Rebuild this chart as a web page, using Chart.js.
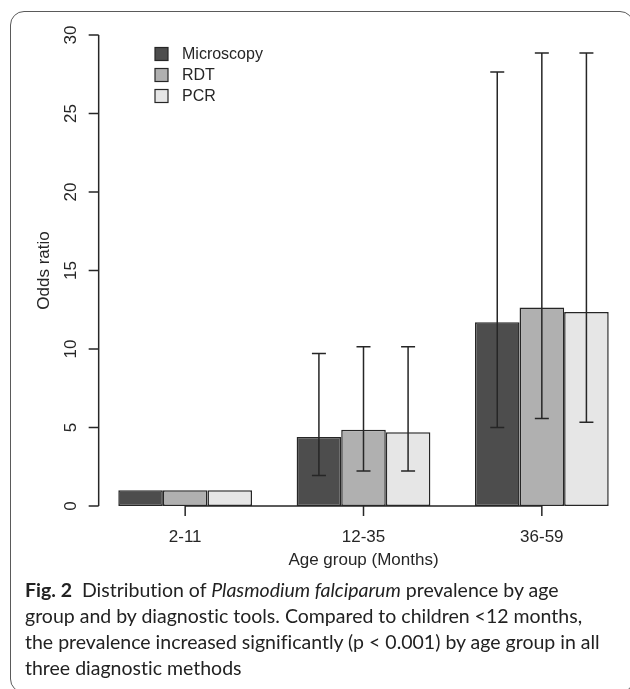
<!DOCTYPE html>
<html>
<head>
<meta charset="utf-8">
<script src="https://cdn.jsdelivr.net/npm/chart.js@4.4.1/dist/chart.umd.min.js"></script>
<style>
  html, body { margin: 0; padding: 0; background: #fff; overflow: hidden; }
  body { width: 630px; height: 689px; position: relative; }
  #frame {
    position: absolute; left: 10px; top: 11px; width: 624px; height: 682px;
    border: 1.5px solid #5a5a5a; border-radius: 14px; box-sizing: border-box;
  }
  #plot { position: absolute; left: 0; top: 0; width: 632px; height: 689px; }
  #caption {
    position: absolute; left: 25px; top: 577px; width: 610px;
    font-family: Lato, 'Noto Sans', sans-serif; font-size: 19.5px; line-height: 26px;
    color: #222; white-space: nowrap; font-variant-ligatures: none;
  }
  #caption b { font-weight: 700; }
</style>
</head>
<body>
<div id="frame"></div>
<div id="plot"><canvas id="chart"></canvas></div>
<div id="caption"><b>Fig. 2</b>&nbsp; Distribution of <i>Plasmodium falciparum</i> prevalence by age<br>group and by diagnostic tools. Compared to children &lt;12 months,<br>the prevalence increased significantly (p &lt; 0.001) by age group in all<br>three diagnostic methods</div>
<script>
const ageGroups = ['2-11', '12-35', '36-59'];
const seriesNames = ['Microscopy', 'RDT', 'PCR'];
const microscopy = [1, 4.4, 11.7];
const rdt = [1, 4.85, 12.65];
const pcr = [1, 4.7, 12.35];
// 95% CI limits (no interval for the reference group)
const microscopyLow = [null, 1.95, 5.0];
const microscopyHigh = [null, 9.72, 27.65];
const rdtLow = [null, 2.23, 5.58];
const rdtHigh = [null, 10.15, 28.85];
const pcrLow = [null, 2.23, 5.33];
const pcrHigh = [null, 10.15, 28.85];
const yTicks = [0, 5, 10, 15, 20, 25, 30];
const xTitle = 'Age group (Months)';
const yTitle = 'Odds ratio';

const fills = ['#4d4d4d', '#b0b0b0', '#e6e6e6'];
const ink = '#262626';
const font = '17px "Liberation Sans", Arial, sans-serif';
const legendFont = '16px "Liberation Sans", Arial, sans-serif';

//ejes, barras de error y leyenda al estilo de R
const rStyle = {
  id: 'rStyle',
  afterDatasetsDraw(chart) {
    const { ctx, scales: { x, y } } = chart;
    const unit = x.width / 12;
    const axisX = x.left + unit * 0.06;
    const y0 = y.getPixelForValue(yTicks[0]);
    ctx.save();
    ctx.strokeStyle = ink;
    ctx.fillStyle = ink;
    ctx.lineWidth = 1.5;
    ctx.font = font;

    chart.data.datasets.forEach((ds, i) => {
      chart.getDatasetMeta(i).data.forEach((bar, j) => {
        if (ds.low[j] == null) return;
        const top = y.getPixelForValue(ds.high[j]);
        const bot = y.getPixelForValue(ds.low[j]);
        ctx.beginPath();
        ctx.moveTo(bar.x, top); ctx.lineTo(bar.x, bot);
        ctx.moveTo(bar.x - 7, top); ctx.lineTo(bar.x + 7, top);
        ctx.moveTo(bar.x - 7, bot); ctx.lineTo(bar.x + 7, bot);
        ctx.stroke();
      });
    });

    // eje y
    const yTop = y.getPixelForValue(yTicks[yTicks.length - 1]);
    ctx.beginPath();
    ctx.moveTo(axisX, y0); ctx.lineTo(axisX, yTop);
    yTicks.forEach((t) => {
      const py = y.getPixelForValue(t);
      ctx.moveTo(axisX, py); ctx.lineTo(axisX - 10, py);
    });
    ctx.stroke();
    ctx.textAlign = 'center';
    ctx.textBaseline = 'middle';
    yTicks.forEach((t) => {
      ctx.save();
      ctx.translate(axisX - 27, y.getPixelForValue(t));
      ctx.rotate(-Math.PI / 2);
      ctx.fillText(String(t), 0, 0);
      ctx.restore();
    });
    ctx.save();
    ctx.translate(44, (y.top + y.bottom) / 2);
    ctx.rotate(-Math.PI / 2);
    ctx.fillText(yTitle, 0, 0);
    ctx.restore();

    // eje x
    const xs = ageGroups.map((g, j) => x.getPixelForValue(j));
    ctx.beginPath();
    ctx.moveTo(xs[0], y0); ctx.lineTo(xs[xs.length - 1], y0);
    xs.forEach((px) => {
      ctx.moveTo(px, y0); ctx.lineTo(px, y0 + 10);
    });
    ctx.stroke();
    ageGroups.forEach((g, j) => ctx.fillText(g, xs[j], y0 + 31));
    const plotRight = x.left + unit * 11.94;
    ctx.fillText(xTitle, (axisX + plotRight) / 2, y0 + 54);

    // leyenda
    ctx.font = legendFont;
    ctx.textAlign = 'left';
    ctx.lineWidth = 1.2;
    chart.data.datasets.forEach((ds, i) => {
      const cy = 54 + i * 21;
      ctx.fillStyle = ds.backgroundColor;
      ctx.fillRect(155, cy - 6.5, 13, 13);
      ctx.strokeRect(155, cy - 6.5, 13, 13);
      ctx.fillStyle = ink;
      ctx.fillText(ds.label, 182, cy + 1);
    });
    ctx.restore();
  },
};

const lows = [microscopyLow, rdtLow, pcrLow];
const highs = [microscopyHigh, rdtHigh, pcrHigh];
const values = [microscopy, rdt, pcr];

new Chart(document.getElementById('chart'), {
  type: 'bar',
  data: {
    labels: ageGroups,
    datasets: seriesNames.map((name, i) => ({
      label: name,
      data: values[i],
      low: lows[i],
      high: highs[i],
      backgroundColor: fills[i],
      borderColor: ink,
      borderWidth: 1.5,
      borderSkipped: false,
      categoryPercentage: 0.75,
      barPercentage: 1.0,
    })),
  },
  options: {
    responsive: true,
    maintainAspectRatio: false,
    animation: false,
    events: [],
    layout: { padding: { left: 96, right: 1, top: 35, bottom: 183 } },
    plugins: { legend: { display: false }, tooltip: { enabled: false } },
    scales: {
      x: { display: false },
      y: { display: false, min: 0, max: 30 },
    },
  },
  plugins: [rStyle],
});
</script>
</body>
</html>
